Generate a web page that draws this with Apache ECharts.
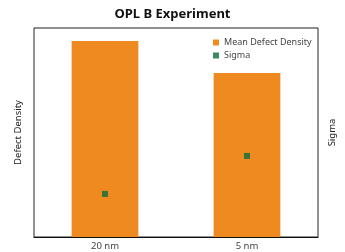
<!DOCTYPE html>
<html>
<head>
<meta charset="utf-8">
<script src="https://cdn.jsdelivr.net/npm/echarts@6/dist/echarts.min.js"></script>
<style>
  html, body { margin: 0; padding: 0; background: #fff; }
  #chart { width: 345px; height: 252px; }
</style>
</head>
<body>
<div id="chart"></div>
<script>
var categories = ["20 nm", "5 nm"];
var meanDefectDensity = [93.8, 78.5];
var sigma = [20.6, 38.8];

var chart = echarts.init(document.getElementById("chart"));

var option = {
  animation: false,
  backgroundColor: "#fff",
  textStyle: { fontFamily: "Noto Sans" },
  title: {
    text: "OPL B Experiment",
    left: "center",
    top: 3,
    textStyle: { fontSize: 13, fontWeight: "bold", color: "#111", fontFamily: "Noto Sans" }
  },
  legend: {
    left: 208,
    top: 33,
    orient: "vertical",
    itemWidth: 6,
    itemHeight: 6,
    itemGap: 4,
    textStyle: { fontSize: 9, color: "#444", padding: [0, 0, 0, 0] },
    data: [
      { name: "Mean Defect Density", icon: "rect" },
      { name: "Sigma", icon: "rect" }
    ]
  },
  grid: {
    left: 34,
    right: 27,
    top: 28,
    bottom: 15,
    outerBoundsMode: "none",
    show: true,
    borderColor: "#222",
    borderWidth: 1
  },
  xAxis: {
    type: "category",
    data: categories,
    axisTick: { show: false },
    axisLine: { lineStyle: { color: "#111" } },
    axisLabel: { fontSize: 9.5, color: "#444", margin: 4 }
  },
  yAxis: [
    {
      type: "value",
      min: 0,
      max: 100,
      name: "Defect Density",
      nameLocation: "middle",
      nameGap: 11,
      nameTextStyle: { fontSize: 9.5, color: "#222" },
      axisLabel: { show: false },
      axisTick: { show: false },
      axisLine: { show: false },
      splitLine: { show: false }
    },
    {
      type: "value",
      min: 0,
      max: 100,
      name: "Sigma",
      nameLocation: "middle",
      nameGap: 9,
      nameRotate: 90,
      nameTextStyle: { fontSize: 9.5, color: "#222" },
      axisLabel: { show: false },
      axisTick: { show: false },
      axisLine: { show: false },
      splitLine: { show: false }
    }
  ],
  series: [
    {
      name: "Mean Defect Density",
      type: "bar",
      data: meanDefectDensity,
      barWidth: "47%",
      itemStyle: { color: "#EE8A20" }
    },
    {
      name: "Sigma",
      type: "scatter",
      yAxisIndex: 1,
      data: sigma,
      symbol: "rect",
      symbolSize: 6,
      itemStyle: { color: "#0A6E3A" }
    }
  ]
};

chart.setOption(option);
</script>
</body>
</html>
